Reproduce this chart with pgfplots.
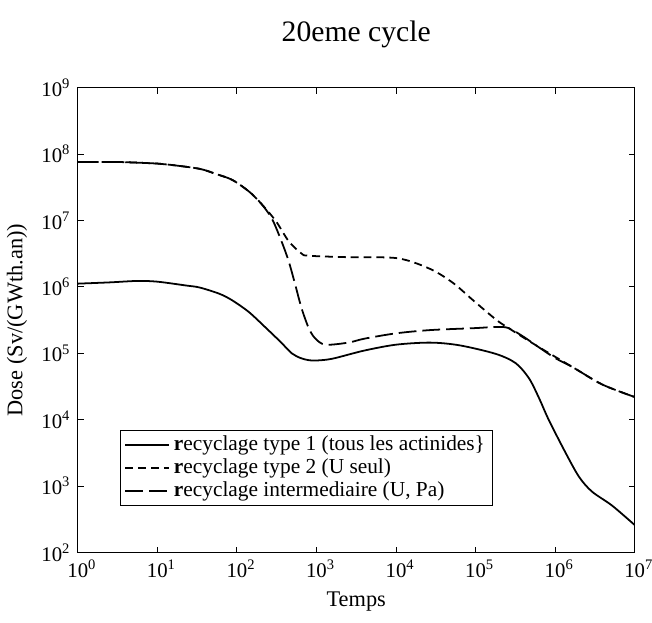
\documentclass[border={0pt 2bp 0pt 7bp}]{standalone}
\usepackage{fontspec}
\setmainfont{Liberation Serif}
\usepackage{pgfplots}
\pgfplotsset{compat=1.18}

\begin{document}
\fontsize{10.5bp}{12bp}\selectfont
\begin{tikzpicture}
\begin{axis}[
    xmode=log, ymode=log,
    scale only axis,
    width=281.5bp, height=235bp,
    xmin=1, xmax=1e7,
    ymin=1e2, ymax=1e9,
    xtick={1,1e1,1e2,1e3,1e4,1e5,1e6,1e7},
    xticklabels={10\rlap{\textsuperscript{0}},10\rlap{\textsuperscript{1}},10\rlap{\textsuperscript{2}},10\rlap{\textsuperscript{3}},10\rlap{\textsuperscript{4}},10\rlap{\textsuperscript{5}},10\rlap{\textsuperscript{6}},10\rlap{\textsuperscript{7}}},
    ytick={1e2,1e3,1e4,1e5,1e6,1e7,1e8,1e9},
    yticklabels={10\textsuperscript{2},10\textsuperscript{3},10\textsuperscript{4},10\textsuperscript{5},10\textsuperscript{6},10\textsuperscript{7},10\textsuperscript{8},10\textsuperscript{9}},
    xminorticks=false, yminorticks=false,
    tick align=inside,
    major tick length=3bp,
    tick style={black, line width=0.5pt},
    axis line style={line width=0.6pt},
    ticklabel style={font=\fontsize{10.5bp}{12bp}\selectfont},
    xlabel={Temps},
    ylabel={Dose (Sv/(GWth.an))},
    label style={font=\fontsize{11.3bp}{13bp}\selectfont},
    title={20eme cycle},
    title style={font=\fontsize{15bp}{17bp}\selectfont, yshift=10.5bp},
    legend style={at={(0.076,0.1)}, anchor=south west, draw=black,
        font=\fontsize{10.8bp}{12bp}\selectfont, row sep=-1.5bp,
        inner xsep=2bp, inner ysep=1bp},
    legend cell align=left,
    legend image code/.code={\draw[#1] (0cm,0cm) -- (0.78cm,0cm);},
    every axis plot/.append style={line width=0.9pt, black},
]
\addplot[smooth, tension=0.5] coordinates {
(1,1.12e6) (2.5,1.17e6) (5.6,1.23e6) (10,1.2e6) (23,1.05e6) (34,9.8e5)
(60,7.9e5) (87,6.3e5) (141,4.2e5) (229,2.45e5) (355,1.48e5) (490,1.0e5)
(631,8.5e4) (794,7.9e4) (1000,7.8e4) (1585,8.3e4) (3981,1.1e5) (1e4,1.35e5)
(2.7e4,1.45e5) (6.3e4,1.32e5) (1.8e5,9.8e4) (3.2e5,7.1e4) (4.7e5,4.2e4)
(6.3e5,2.1e4) (8.3e5,1.0e4) (1.35e6,3.2e3) (2.0e6,1.38e3) (2.9e6,8.3e2)
(5.2e6,5.1e2) (1e7,2.6e2)
};
\addlegendentry{\textbf{r}ecyclage type 1 (tous les actinides\}}
\addplot[smooth, tension=0.5, dash pattern=on 4bp off 2.5bp] coordinates {
(1,7.6e7) (3.2,7.6e7) (10,7.2e7) (14.5,6.9e7) (34,6.0e7) (55,5.0e7)
(87,4.1e7) (141,2.75e7) (200,1.82e7) (309,9.8e6) (447,4.9e6) (646,3.2e6)
(794,2.95e6) (2512,2.8e6) (1.05e4,2.7e6) (2.7e4,1.86e6) (5.2e4,1.15e6)
(9.3e4,6.3e5) (1.82e5,3.2e5) (2.6e5,2.4e5) (5.75e5,1.32e5) (1.66e6,6.2e4)
(3.9e6,3.4e4) (1e7,2.2e4)
};
\addlegendentry{\textbf{r}ecyclage type 2 (U seul)}
\addplot[smooth, tension=0.5, dash pattern=on 9bp off 3bp] coordinates {
(1,7.6e7) (3.2,7.6e7) (10,7.2e7) (14.5,6.9e7) (34,6.0e7) (55,5.0e7)
(87,4.1e7) (141,2.75e7) (200,1.82e7) (275,1.07e7) (363,4.9e6) (447,2.45e6)
(537,1.12e6) (646,4.9e5) (794,2.45e5) (955,1.7e5) (1288,1.35e5) (2512,1.45e5)
(3981,1.66e5) (1e4,2.0e5) (2.7e4,2.24e5) (1e5,2.4e5) (1.82e5,2.5e5)
(2.6e5,2.4e5) (4e5,1.78e5) (5.75e5,1.32e5) (1e6,8.5e4) (1.66e6,6.2e4)
(3.9e6,3.4e4) (1e7,2.2e4)
};
\addlegendentry{\textbf{r}ecyclage intermediaire (U, Pa)}
\end{axis}
\end{tikzpicture}
\end{document}
